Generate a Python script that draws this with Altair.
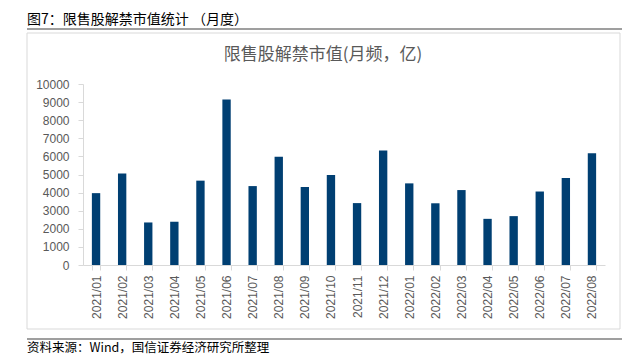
import altair as alt
import pandas as pd

months = ["2021/01", "2021/02", "2021/03", "2021/04", "2021/05", "2021/06",
          "2021/07", "2021/08", "2021/09", "2021/10", "2021/11", "2021/12",
          "2022/01", "2022/02", "2022/03", "2022/04", "2022/05", "2022/06",
          "2022/07", "2022/08"]
values = [3970, 5060, 2350, 2390, 4660, 9150,
          4360, 5980, 4310, 4970, 3420, 6330,
          4510, 3410, 4140, 2550, 2700, 4060,
          4800, 6180]
y_ticks = [0, 1000, 2000, 3000, 4000, 5000, 6000, 7000, 8000, 9000, 10000]

fig_title = "图7：限售股解禁市值统计 （月度）"
chart_title = "限售股解禁市值(月频，亿)"
source_note = "资料来源：Wind，国信证券经济研究所整理"

df = pd.DataFrame({"month": months, "value": values})

CJK = "Noto Sans CJK SC"
LAT = "Liberation Sans"
GRAY = "#595959"
LINE = "#d9d9d9"

bars = alt.Chart(df).mark_bar(color="#003f72").encode(
    x=alt.X("month:N", sort=months, title=None,
            scale=alt.Scale(paddingInner=0.68, paddingOuter=0.34),
            axis=alt.Axis(labelAngle=-90, labelFont=LAT, labelFontSize=12,
                          labelColor=GRAY, domainColor=LINE, tickColor=LINE,
                          tickSize=5, tickBand="extent", labelPadding=5,
                          labelBaseline="middle", labelAlign="right")),
    y=alt.Y("value:Q", title=None,
            scale=alt.Scale(domain=[0, 10000], nice=False),
            axis=alt.Axis(values=y_ticks, format="d", labelFont=LAT,
                          labelFontSize=12, labelColor=GRAY, domainColor=LINE,
                          tickColor=LINE, tickSize=5, labelPadding=9,
                          grid=False)),
)

one = pd.DataFrame({"t": [0]})

def text_layer(txt, x, y, size, color, align):
    return alt.Chart(pd.DataFrame({"t": [txt]})).mark_text(
        font=CJK, fontSize=size, color=color, align=align, baseline="middle"
    ).encode(x=alt.value(x), y=alt.value(y), text="t:N")

def rule(x, x2, y, y2, color, width):
    return alt.Chart(one).mark_rule(color=color, strokeWidth=width).encode(
        x=alt.value(x), x2=alt.value(x2), y=alt.value(y), y2=alt.value(y2))

layers = [
    rule(-56, 539, -55, -55, "#7f7f7f", 1.5),
    rule(-56, 537, -51, -51, LINE, 1),
    rule(-56, -56, -51, 245, LINE, 1),
    rule(537, 537, -51, 245, LINE, 1),
    rule(-56, 537, 245, 245, LINE, 1),
    rule(-56, 539, 255, 255, "#7f7f7f", 1.5),
    bars,
    text_layer(fig_title, -56, -64, 14, "#000000", "left"),
    text_layer(chart_title, 240, -29, 17, GRAY, "center"),
    text_layer(source_note, -56, 264, 12.5, "#000000", "left"),
]

chart = alt.layer(*layers).properties(
    width=522, height=181,
    autosize=alt.AutoSizeParams(type="none"),
    padding={"left": 75, "top": 76, "right": 25, "bottom": 90},
).configure_view(stroke=None)

chart.save("out.html", embed_options={"renderer": "svg", "actions": False})
